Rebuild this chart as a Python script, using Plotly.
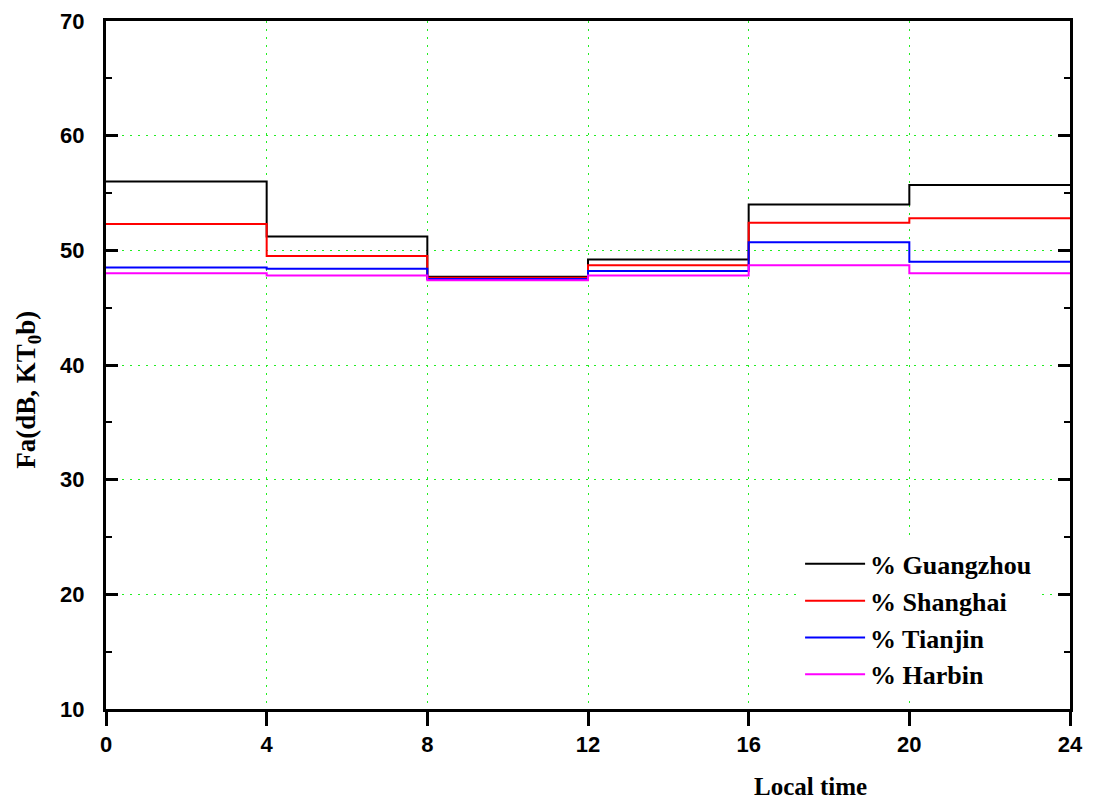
import plotly.graph_objects as go

hours = [0, 4, 8, 12, 16, 20, 24]
guangzhou = [56.0, 51.2, 47.7, 49.2, 54.0, 55.7]
shanghai = [52.3, 49.5, 47.6, 48.7, 52.4, 52.8]
tianjin = [48.5, 48.4, 47.5, 48.2, 50.7, 49.0]
harbin = [48.0, 47.8, 47.4, 47.8, 48.7, 48.0]

series = [
    ("% Guangzhou", guangzhou, "#000000"),
    ("% Shanghai", shanghai, "#ff0000"),
    ("% Tianjin", tianjin, "#0000ff"),
    ("% Harbin", harbin, "#ff00ff"),
]

fig = go.Figure()
for name, vals, color in series:
    fig.add_trace(go.Scatter(
        x=hours, y=vals + [vals[-1]], mode="lines", name=name,
        line=dict(color=color, width=2, shape="hv"),
    ))

tickfont = dict(family="Liberation Sans", size=22, color="black", weight="bold")
gridcol = "#22ee22"

fig.update_layout(
    width=1078, height=796,
    margin=dict(l=98, r=16, t=13, b=95),
    paper_bgcolor="white", plot_bgcolor="white",
    showlegend=True,
    legend=dict(
        x=0.72, y=0.245, xanchor="left", yanchor="top",
        bgcolor="white", borderwidth=0,
        font=dict(family="Liberation Serif", size=26, color="black", weight="bold"),
        itemwidth=60,
    ),
    xaxis=dict(
        range=[0, 24], tickvals=hours, ticktext=[str(h) for h in hours],
        ticks="outside", ticklen=14, tickwidth=3, tickcolor="black",
        showline=True, linewidth=3, linecolor="black", mirror=True,
        showgrid=True, gridcolor=gridcol, gridwidth=1, griddash="2px,6px",
        zeroline=False, tickfont=tickfont, automargin=False, ticklabeloverflow="allow",
    ),
    yaxis=dict(
        range=[10, 70], tickvals=[10, 20, 30, 40, 50, 60, 70],
        ticks="inside", ticklen=12, tickwidth=3, tickcolor="black",
        showline=True, linewidth=3, linecolor="black", mirror="ticks",
        showgrid=True, gridcolor=gridcol, gridwidth=1, griddash="2px,6px",
        zeroline=False, tickfont=tickfont, ticklabelstandoff=14,
        automargin=False, ticklabeloverflow="allow",
        minor=dict(ticks="inside", ticklen=6, tickwidth=2, tickcolor="black", dtick=5, showgrid=False),
    ),
    annotations=[
        dict(text="Local time", x=(810 - 106) / 964, y=-0.113,
             xref="paper", yref="paper", showarrow=False, xanchor="center", yanchor="middle",
             font=dict(family="Liberation Serif", size=25, color="black", weight="bold")),
        dict(text="Fa(dB, KT<sub>0</sub>b)", x=-0.081, y=0.464, xref="paper", yref="paper",
             showarrow=False, textangle=-90, xanchor="center", yanchor="middle",
             font=dict(family="Liberation Serif", size=27, color="black", weight="bold")),
    ],
)

fig.write_html("out.html")
